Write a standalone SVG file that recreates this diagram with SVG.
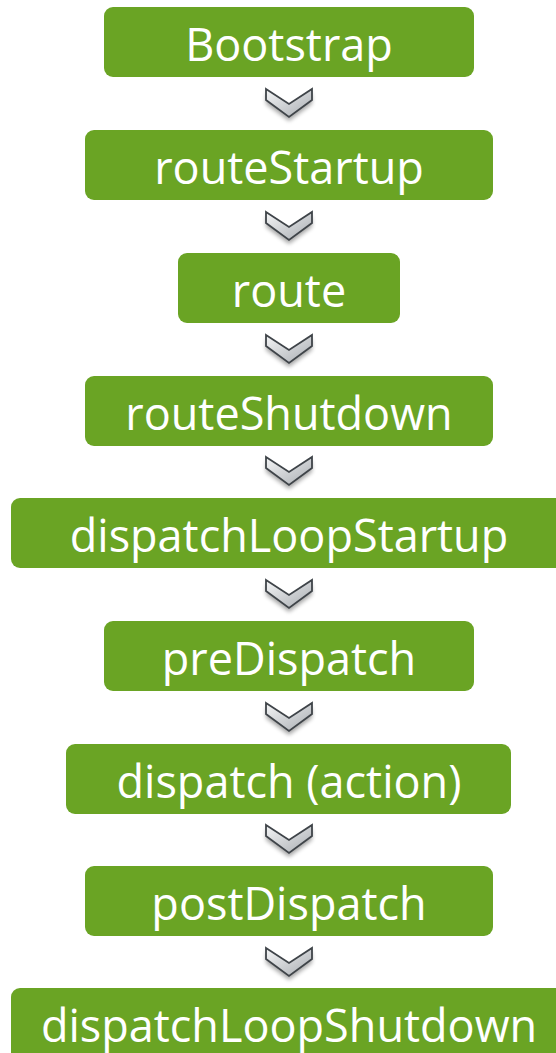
<svg xmlns="http://www.w3.org/2000/svg" width="556" height="1053" viewBox="0 0 556 1053">
<defs>
<style>
.box{fill:#6aa424;}
.lbl{font-family:"Open Sans","Liberation Sans",sans-serif;font-size:45px;fill:#ffffff;text-anchor:middle;}
.chev{fill:url(#cg);stroke:#3f4449;stroke-width:1.8;stroke-linejoin:miter;}
.shadow{fill:#000;opacity:0.35;filter:url(#blur);}
</style>
<linearGradient id="cg" x1="0" y1="0" x2="1" y2="1">
<stop offset="0" stop-color="#f4f5f6"/>
<stop offset="1" stop-color="#a9adb2"/>
</linearGradient>
<filter id="blur" x="-50%" y="-50%" width="200%" height="200%"><feGaussianBlur stdDeviation="2"/></filter>
<g id="chevron">
<polygon class="shadow" points="-23,4 0,19 23,4 23,15 0,32 -23,15"/>
<polygon class="chev" points="-23,0 0,15 23,0 23,11 0,28 -23,11"/>
</g>
</defs>
<g id="connectors">
<use href="#chevron" x="289" y="89"/>
<use href="#chevron" x="289" y="212"/>
<use href="#chevron" x="289" y="335"/>
<use href="#chevron" x="289" y="457"/>
<use href="#chevron" x="289" y="580"/>
<use href="#chevron" x="289" y="703"/>
<use href="#chevron" x="289" y="825"/>
<use href="#chevron" x="289" y="948"/>
</g>
<g id="n1"><rect class="box" x="104" y="7" width="370" height="70" rx="9"/><text class="lbl" x="289" y="61">Bootstrap</text></g>
<g id="n2"><rect class="box" x="85" y="130" width="408" height="70" rx="9"/><text class="lbl" x="289" y="184">routeStartup</text></g>
<g id="n3"><rect class="box" x="178" y="253" width="222" height="70" rx="9"/><text class="lbl" x="289" y="307">route</text></g>
<g id="n4"><rect class="box" x="85" y="376" width="408" height="70" rx="9"/><text class="lbl" x="289" y="430">routeShutdown</text></g>
<g id="n5"><rect class="box" x="11" y="498" width="556" height="70" rx="9"/><text class="lbl" x="289" y="552">dispatchLoopStartup</text></g>
<g id="n6"><rect class="box" x="104" y="621" width="370" height="70" rx="9"/><text class="lbl" x="289" y="675">preDispatch</text></g>
<g id="n7"><rect class="box" x="66" y="744" width="445" height="70" rx="9"/><text class="lbl" x="289" y="798">dispatch (action)</text></g>
<g id="n8"><rect class="box" x="85" y="866" width="408" height="70" rx="9"/><text class="lbl" x="289" y="920">postDispatch</text></g>
<g id="n9"><rect class="box" x="11" y="988" width="556" height="75" rx="9"/><text class="lbl" x="289" y="1042">dispatchLoopShutdown</text></g>
</svg>
